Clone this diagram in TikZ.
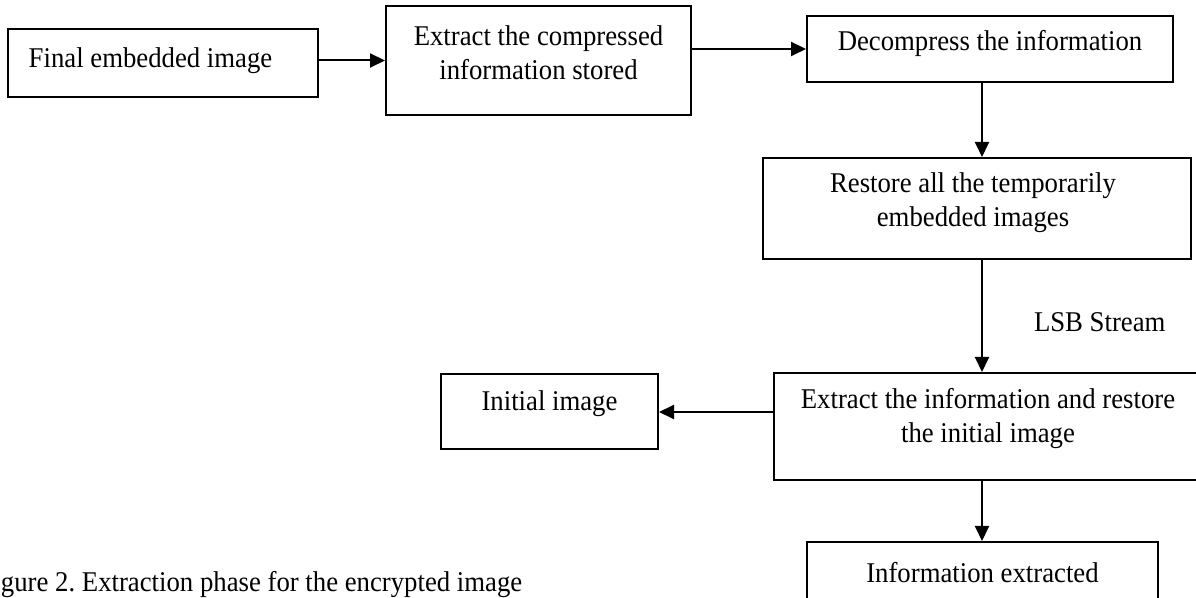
\documentclass[tikz,border=0pt]{standalone}
\usepackage{fontspec}
\setmainfont{Liberation Serif}[FakeStretch=0.935]
\usetikzlibrary{arrows.meta}

\begin{document}
\begin{tikzpicture}[
    x=0.5pt, y=-0.5pt,
    line width=1pt,
    box/.style={rectangle,draw=black,line width=1pt,inner sep=0pt},
    txt/.style={align=center,font=\fontsize{14.3}{17}\selectfont},
    lsbtxt/.style={txt,anchor=base west,inner sep=0pt,xshift=25.5pt},
    >={Triangle[length=7.5pt,width=7pt]},
    ]
    \useasboundingbox (0,0) rectangle (1196,598);
    \coordinate (spine) at (982,0);
    % top row
    \node[box,minimum width=155pt,minimum height=34pt,
        label={[txt,shift={(-12.5,-2.6)}]center:Final embedded image}]
        (final) at (163,63) {};
    \node[box,minimum width=152.5pt,minimum height=54.5pt,
        label={[txt,shift={(0,-7.7)}]center:Extract the compressed\\information stored}]
        (extract) at (538.5,60.5) {};
    \node[box,minimum width=183pt,minimum height=33pt,
        label={[txt,shift={(0,-5.6)}]center:Decompress the information}]
        (decomp) at (990,49) {};
    % right column
    \node[box,minimum width=214pt,minimum height=50.5pt,
        label={[txt,shift={(-4,-5.7)}]center:Restore all the temporarily\\embedded images}]
        (restore) at (977,208.5) {};
    \node[box,minimum width=214pt,minimum height=53.5pt,
        label={[txt,shift={(0,-7.7)}]center:Extract the information and restore\\the initial image}]
        (recover) at (988,426.5) {};
    \node[box,minimum width=108.5pt,minimum height=37.5pt,
        label={[txt,shift={(0,-8.6)}]center:Initial image}]
        (initial) at (549.5,412) {};
    \node[box,minimum width=175.5pt,minimum height=37.5pt,
        label={[txt,shift={(0,-7.1)}]center:Information extracted}]
        (info) at (982.5,579.5) {};
    \node[txt,anchor=base west,inner sep=0pt] (caption) at (0,591.5)
        {gure 2.\ Extraction phase for the encrypted image};
    % arrows
    \draw[->] (final.east |- extract.west) -- (extract.west);
    \draw[->] (extract.east |- decomp.west) -- (decomp.west);
    \draw[->] (decomp.south -| spine) -- (restore.north -| spine);
    \draw[->] (restore.south -| spine)
        -- node[lsbtxt,pos=0.64] (lsb) {LSB Stream}
        (recover.north -| spine);
    \draw[->] (recover.west |- initial.east) -- (initial.east);
    \draw[->] (recover.south -| spine) -- (info.north -| spine);
\end{tikzpicture}
\end{document}
